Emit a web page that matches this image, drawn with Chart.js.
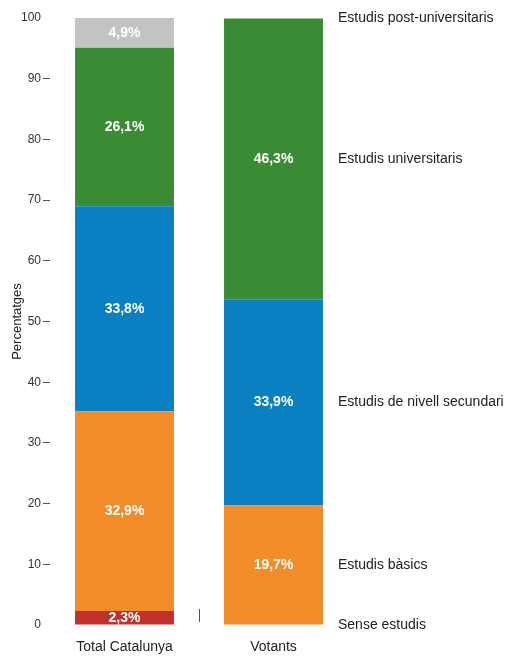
<!DOCTYPE html>
<html>
<head>
<meta charset="utf-8">
<script src="https://cdn.jsdelivr.net/npm/chart.js@4"></script>
<style>
  html, body { margin: 0; padding: 0; background: #fff; }
  #wrap { position: relative; width: 510px; height: 657px; }
</style>
</head>
<body>
<div id="wrap"><canvas id="chart"></canvas></div>
<script>
const groups = ['Total Catalunya', 'Votants'];
const levels = ['Sense estudis', 'Estudis bàsics', 'Estudis de nivell secundari', 'Estudis universitaris', 'Estudis post-universitaris'];
const senseEstudis = [2.3, 0];
const basics = [32.9, 19.7];
const secundari = [33.8, 33.9];
const universitaris = [26.1, 46.3];
const postUniversitaris = [4.9, 0];
const yTicks = [0, 10, 20, 30, 40, 50, 60, 70, 80, 90, 100];

const colors = ['#c1312c', '#f28c28', '#0a7fc1', '#3a8c34', '#c3c3c3'];
const series = [senseEstudis, basics, secundari, universitaris, postUniversitaris];
const font = '"Liberation Sans", Arial, sans-serif';

const fmt = v => v.toFixed(1).replace('.', ',') + '%';

// white value labels centred in each segment, level names beside the Votants bar
const segmentLabels = {
  id: 'segmentLabels',
  afterDatasetsDraw(chart) {
    const ctx = chart.ctx;
    ctx.save();
    ctx.textBaseline = 'middle';
    chart.data.datasets.forEach((ds, i) => {
      const meta = chart.getDatasetMeta(i);
      meta.data.forEach((bar, j) => {
        const v = ds.data[j];
        if (!v) return;
        ctx.fillStyle = '#ffffff';
        ctx.font = 'bold 14px ' + font;
        ctx.textAlign = 'center';
        ctx.fillText(fmt(v), bar.x, (bar.y + bar.base) / 2);
      });
      const last = meta.data[1];
      ctx.fillStyle = '#222';
      ctx.font = '14px ' + font;
      ctx.textAlign = 'left';
      ctx.fillText(ds.label, last.x + last.width / 2 + 15, (last.y + last.base) / 2);
    });
    ctx.restore();
  }
};

// short divider between the two bars
const divider = {
  id: 'divider',
  afterDraw(chart) {
    const x = chart.scales.x;
    const mid = (x.getPixelForValue(0) + x.getPixelForValue(1)) / 2;
    const bottom = chart.chartArea.bottom;
    const ctx = chart.ctx;
    ctx.save();
    ctx.strokeStyle = '#555';
    ctx.lineWidth = 1;
    ctx.beginPath();
    ctx.moveTo(mid + 0.5, bottom - 16);
    ctx.lineTo(mid + 0.5, bottom - 3);
    ctx.stroke();
    ctx.restore();
  }
};

new Chart(document.getElementById('chart'), {
  type: 'bar',
  data: {
    labels: groups,
    datasets: series.map((data, i) => ({
      label: levels[i],
      data: data,
      backgroundColor: colors[i],
      borderWidth: 0,
      barPercentage: 0.664,
      categoryPercentage: 1
    }))
  },
  options: {
    responsive: true,
    maintainAspectRatio: false,
    animation: false,
    layout: { padding: { top: 18, right: 162, bottom: 0, left: 0 } },
    plugins: {
      legend: { display: false },
      tooltip: { enabled: false }
    },
    scales: {
      x: {
        stacked: true,
        afterFit: scale => { scale.height = 32; },
        grid: { display: false },
        border: { display: false },
        ticks: { color: '#222', font: { family: font, size: 14 }, padding: 6 }
      },
      y: {
        stacked: true,
        min: 0,
        max: 100,
        afterBuildTicks: scale => { scale.ticks = yTicks.map(v => ({ value: v })); },
        afterFit: scale => { scale.width = 50; },
        grid: {
          drawOnChartArea: false,
          tickLength: 7,
          tickColor: ctx => (ctx.tick && (ctx.tick.value === 0 || ctx.tick.value === 100)) ? 'rgba(0,0,0,0)' : '#555'
        },
        border: { display: false },
        ticks: { color: '#333', font: { family: font, size: 12 }, padding: 2 },
        title: {
          display: true,
          text: 'Percentatges',
          color: '#222',
          font: { family: font, size: 13 },
          padding: { top: 10, bottom: 0 }
        }
      }
    }
  },
  plugins: [segmentLabels, divider]
});
</script>
</body>
</html>
